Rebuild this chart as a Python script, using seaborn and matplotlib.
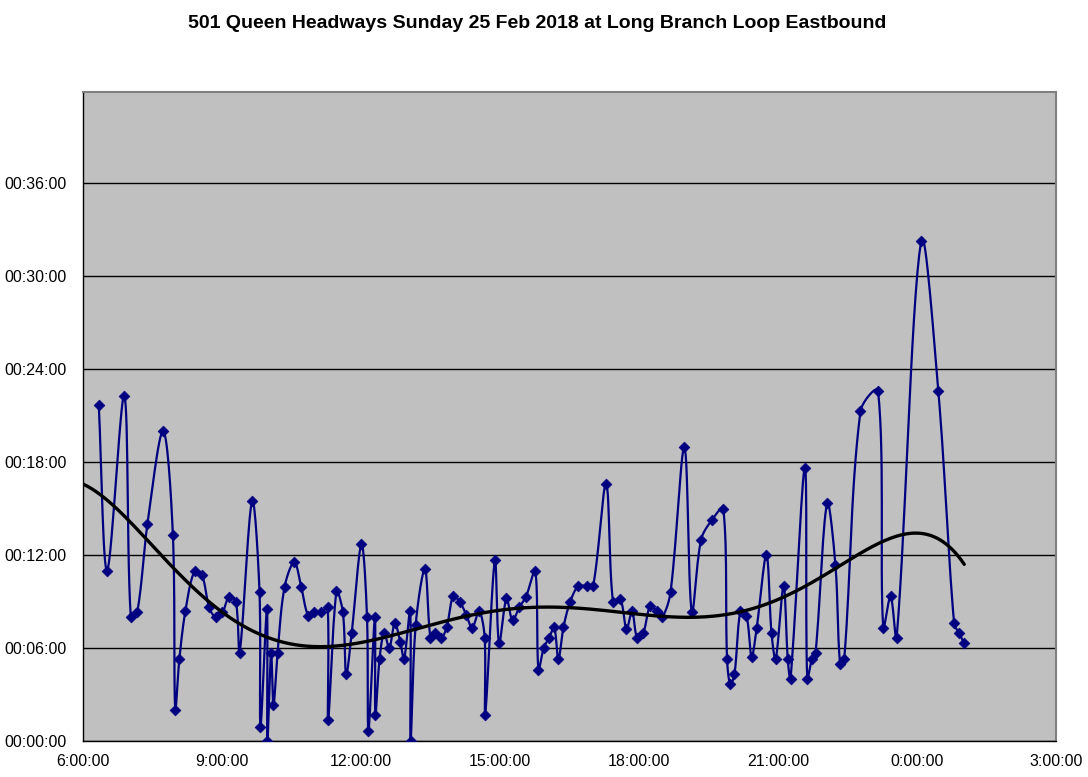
import numpy as np
import matplotlib
matplotlib.use("Agg")
import matplotlib.pyplot as plt
import seaborn as sns

TITLE = "501 Queen Headways Sunday 25 Feb 2018 at Long Branch Loop Eastbound"

# arrival time at the loop, hours after midnight (values > 24 are after midnight)
arrival_hr = [
    6.34, 6.52, 6.89, 7.03, 7.17, 7.39, 7.73, 7.94, 7.99, 8.08,
    8.21, 8.41, 8.57, 8.72, 8.86, 9.01, 9.15, 9.30, 9.38, 9.65,
    9.81, 9.83, 9.97, 9.98, 10.06, 10.11, 10.20, 10.35, 10.56, 10.71,
    10.86, 10.99, 11.14, 11.28, 11.29, 11.47, 11.61, 11.68, 11.80, 12.01,
    12.13, 12.16, 12.30, 12.31, 12.40, 12.50, 12.61, 12.73, 12.85, 12.93,
    13.06, 13.07, 13.18, 13.38, 13.50, 13.60, 13.73, 13.85, 13.99, 14.14,
    14.27, 14.40, 14.55, 14.67, 14.68, 14.89, 14.98, 15.14, 15.27, 15.42,
    15.56, 15.76, 15.83, 15.94, 16.06, 16.17, 16.26, 16.37, 16.51, 16.69,
    16.87, 17.01, 17.29, 17.44, 17.60, 17.73, 17.85, 17.96, 18.09, 18.24,
    18.38, 18.50, 18.68, 18.98, 19.14, 19.34, 19.58, 19.82, 19.90, 19.97,
    20.06, 20.19, 20.32, 20.43, 20.54, 20.75, 20.86, 20.95, 21.12, 21.21,
    21.27, 21.58, 21.63, 21.73, 21.81, 22.06, 22.24, 22.34, 22.43, 22.78,
    23.16, 23.27, 23.43, 23.56, 24.09, 24.46, 24.80, 24.91, 25.02,
]

# headway in minutes
headway_min = [
    21.7, 11.0, 22.3, 8.0, 8.3, 14.0, 20.0, 13.3, 2.0, 5.3,
    8.4, 11.0, 10.7, 8.65, 8.0, 8.3, 9.3, 9.0, 5.7, 15.5,
    9.6, 0.9, 8.5, 0.0, 5.7, 2.3, 5.7, 9.95, 11.55, 9.95,
    8.1, 8.3, 8.3, 8.65, 1.36, 9.66, 8.3, 4.3, 7.0, 12.7,
    8.0, 0.65, 8.0, 1.66, 5.3, 7.0, 6.0, 7.6, 6.36, 5.3,
    8.4, 0.0, 7.5, 11.1, 6.65, 7.0, 6.65, 7.35, 9.35, 8.95,
    8.15, 7.3, 8.4, 6.65, 1.65, 11.7, 6.3, 9.2, 7.8, 8.65,
    9.3, 11.0, 4.6, 6.0, 6.65, 7.35, 5.3, 7.35, 8.95, 10.0,
    10.0, 10.0, 16.6, 8.95, 9.15, 7.2, 8.4, 6.65, 6.95, 8.7,
    8.4, 8.0, 9.6, 18.95, 8.3, 13.0, 14.3, 15.0, 5.3, 3.65,
    4.3, 8.4, 8.1, 5.45, 7.3, 12.0, 6.95, 5.3, 10.0, 5.3,
    4.0, 17.65, 4.0, 5.3, 5.67, 15.35, 11.35, 4.95, 5.3, 21.3,
    22.6, 7.3, 9.35, 6.65, 32.3, 22.6, 7.6, 6.95, 6.3,
]

x_ticks = [6, 9, 12, 15, 18, 21, 24, 27]
x_labels = ["6:00:00", "9:00:00", "12:00:00", "15:00:00",
            "18:00:00", "21:00:00", "0:00:00", "3:00:00"]
y_ticks = [0, 6, 12, 18, 24, 30, 36]
y_labels = ["00:00:00", "00:06:00", "00:12:00", "00:18:00",
            "00:24:00", "00:30:00", "00:36:00"]

NAVY = "#000080"
# rough screen scale (px per hour, px per minute) used to shape the smoothing
SX, SY = 46.3, 15.45


def smooth_line(x, y, steps=16):
    """Excel style smoothed line: bezier segments, handles scaled by chord length."""
    p = np.column_stack([np.asarray(x) * SX, np.asarray(y) * SY])
    n = len(p)
    seg_len = np.hypot(*np.diff(p, axis=0).T)
    t = np.linspace(0, 1, steps)[:, None]
    out = [p[:1]]
    for i in range(n - 1):
        a, b = p[i], p[i + 1]
        prev_pt = p[i - 1] if i > 0 else a
        next_pt = p[i + 2] if i + 2 < n else b
        l_in_a = seg_len[i - 1] if i > 0 else 0.0
        l_out_b = seg_len[i + 1] if i + 2 < n else 0.0
        l = seg_len[i]
        ka = l / (3 * (l_in_a + l)) if (l_in_a + l) > 0 else 0.0
        kb = l / (3 * (l + l_out_b)) if (l + l_out_b) > 0 else 0.0
        c1 = a + (b - prev_pt) * ka
        c2 = b - (next_pt - a) * kb
        seg = ((1 - t) ** 3 * a + 3 * (1 - t) ** 2 * t * c1
               + 3 * (1 - t) * t ** 2 * c2 + t ** 3 * b)
        out.append(seg[1:])
    out = np.vstack(out)
    return out[:, 0] / SX, out[:, 1] / SY


sns.set_style("white")
plt.rcParams["font.family"] = ["Liberation Sans", "DejaVu Sans"]
plt.rcParams["text.color"] = "black"

fig = plt.figure(figsize=(10.88, 7.77), dpi=100)
ax = fig.add_axes([83 / 1088, 1 - 741 / 777, (1056 - 83) / 1088, (741 - 92) / 777])
ax.set_facecolor("#C0C0C0")

x = np.array(arrival_hr)
y = np.array(headway_min)

# smoothed headway line + diamond markers
sx, sy = smooth_line(x, y)
sns.lineplot(x=sx, y=sy, sort=False, estimator=None, color=NAVY, lw=1.6, ax=ax, zorder=3)
sns.scatterplot(x=x, y=y, marker="D", s=30, color=NAVY, edgecolor=NAVY, linewidth=0.5,
                ax=ax, zorder=4)

# 6th order polynomial trendline (forecast back to 6:00)
coef = np.polyfit(x - 15, y, 6)
tx = np.linspace(6, x[-1], 300)
sns.lineplot(x=tx, y=np.polyval(coef, tx - 15), color="black", lw=2.4, ax=ax, zorder=5)

ax.set_xlim(6, 27)
ax.set_ylim(0, 41.9)
ax.set_xticks(x_ticks)
ax.set_xticklabels(x_labels)
ax.set_yticks(y_ticks)
ax.set_yticklabels(y_labels)
ax.yaxis.grid(True, color="black", lw=1)
ax.xaxis.grid(False)
ax.set_axisbelow(True)
ax.tick_params(axis="both", direction="out", length=4, width=1, color="black",
               labelsize=11.5, labelcolor="black")
ax.tick_params(axis="y", pad=8)
ax.tick_params(axis="x", pad=5)
ax.set_xlabel("")
ax.set_ylabel("")

for side in ["left", "bottom"]:
    ax.spines[side].set_color("black")
    ax.spines[side].set_linewidth(1)
for side in ["top", "right"]:
    ax.spines[side].set_color("#808080")
    ax.spines[side].set_linewidth(1.5)

fig.text(537 / 1088, 1 - 24 / 777, TITLE, ha="center", va="center",
         fontsize=14, fontweight="bold", color="black")

fig.savefig("out.png", dpi=100, facecolor="white")
